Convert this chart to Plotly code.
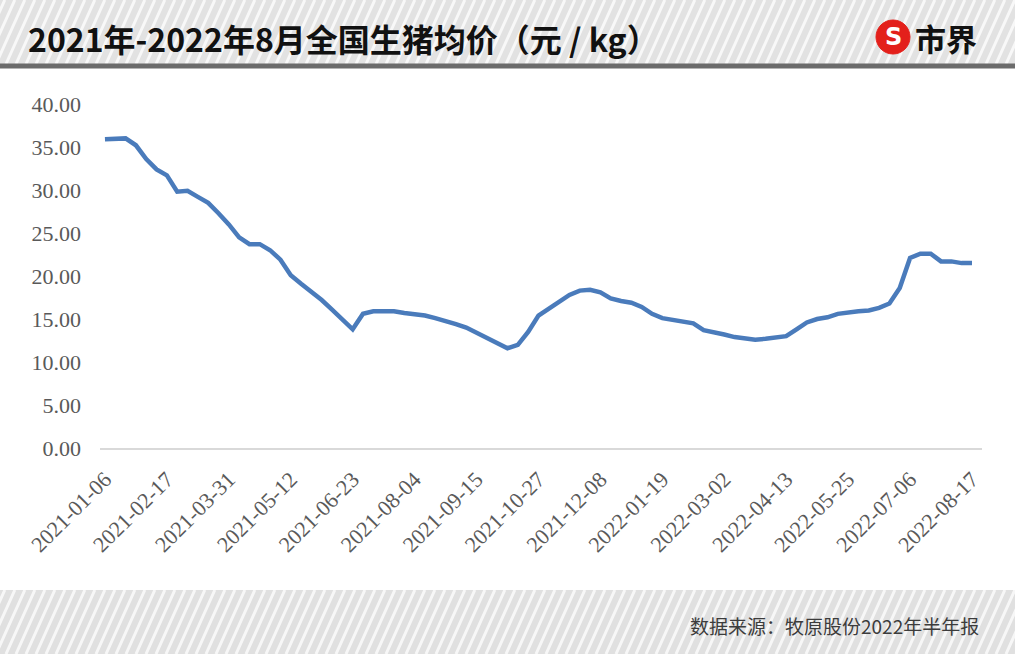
import pandas as pd
import plotly.graph_objects as go

# ---- data ----
week_dates = [d.strftime("%Y-%m-%d") for d in pd.date_range("2021-01-06", "2022-08-17", freq="7D")]
tick_labels = ["2021-01-06", "2021-02-17", "2021-03-31", "2021-05-12", "2021-06-23",
               "2021-08-04", "2021-09-15", "2021-10-27", "2021-12-08", "2022-01-19",
               "2022-03-02", "2022-04-13", "2022-05-25", "2022-07-06", "2022-08-17"]
prices = [35.9, 36.0, 36.0, 35.2, 33.6, 32.4, 31.7, 29.8, 29.9, 29.2,
          28.5, 27.3, 26.0, 24.5, 23.7, 23.7, 23.0, 21.9, 20.1, 19.1,
          18.2, 17.2, 16.1, 15.0, 13.8, 15.6, 15.9, 15.9, 15.9, 15.7,
          15.6, 15.4, 15.1, 14.8, 14.4, 14.0, 13.4, 12.8, 12.1, 11.6,
          12.0, 13.5, 15.4, 16.2, 17.1, 17.8, 18.3, 18.4, 18.1, 17.4,
          17.1, 16.9, 16.4, 15.6, 15.1, 14.9, 14.7, 14.5, 13.7, 13.5,
          13.2, 12.9, 12.7, 12.6, 12.7, 12.8, 13.0, 13.8, 14.6, 15.0,
          15.2, 15.6, 15.8, 15.9, 16.0, 16.3, 16.8, 18.6, 22.1, 22.6,
          22.6, 21.7, 21.7, 21.5, 21.5]
y_ticks = [0, 5, 10, 15, 20, 25, 30, 35, 40]
title_text = "2021年-2022年8月全国生猪均价（元 / kg）"
source_text = "数据来源：牧原股份2022年半年报"
logo_text = "市界"

# ---- layout geometry (pixels) ----
W, H = 1015, 654
L, R, T, B = 100, 33, 104, 206
PW, PH = W - L - R, H - T - B


def px(x):
    return (x - L) / PW


def py(y):
    return (H - B - y) / PH


def stripe_path(y_top, y_bot, spacing=10, slant=0.45):
    h = y_bot - y_top
    parts = []
    x = -h
    while x < W + h:
        parts.append(f"M{px(x):.5f},{py(y_bot):.5f} L{px(x + h * slant):.5f},{py(y_top):.5f}")
        x += spacing
    return " ".join(parts)


shapes = []
# header band
shapes.append(dict(type="rect", xref="paper", yref="paper", x0=px(0), x1=px(W), y0=py(64), y1=py(0),
                   fillcolor="#e2e2e2", line_width=0, layer="below"))
shapes.append(dict(type="path", xref="paper", yref="paper", path=stripe_path(0, 64),
                   line=dict(color="rgba(255,255,255,0.75)", width=3), layer="below"))
shapes.append(dict(type="rect", xref="paper", yref="paper", x0=px(0), x1=px(W), y0=py(68.5), y1=py(63.5),
                   fillcolor="#6b6b6b", line_width=0, layer="below"))
# footer band
shapes.append(dict(type="rect", xref="paper", yref="paper", x0=px(0), x1=px(W), y0=py(H), y1=py(590),
                   fillcolor="#e0e0e0", line_width=0, layer="below"))
shapes.append(dict(type="path", xref="paper", yref="paper", path=stripe_path(590, H),
                   line=dict(color="rgba(255,255,255,0.75)", width=3), layer="below"))
# logo circle
shapes.append(dict(type="circle", xref="paper", yref="paper", x0=px(876), x1=px(910), y0=py(54), y1=py(20),
                   fillcolor="#e3201b", line=dict(color="#e3201b", width=1)))

fig = go.Figure()
fig.add_trace(go.Scatter(
    x=week_dates, y=prices, mode="lines",
    line=dict(color="#4a7bbb", width=4.5),
    hoverinfo="x+y", showlegend=False,
))

axis_font = dict(family="Liberation Serif, Times New Roman, serif", size=22, color="#595959")

fig.update_layout(
    width=W, height=H,
    margin=dict(l=L, r=R, t=T, b=B, pad=0),
    paper_bgcolor="white", plot_bgcolor="white",
    shapes=shapes,
    xaxis=dict(
        type="category", range=[-0.48, 84.97],
        tickmode="array", tickvals=tick_labels, ticktext=tick_labels,
        tickangle=-45, tickfont=axis_font, ticks="",
        showgrid=False, zeroline=False,
        showline=True, linecolor="#d9d9d9", linewidth=1.5,
        ticklabelstandoff=8,
    ),
    yaxis=dict(
        range=[0, 40], tickmode="array", tickvals=y_ticks,
        ticktext=[f"{v:.2f}" for v in y_ticks],
        tickfont=axis_font, ticks="", showgrid=False, zeroline=False,
        showline=False, ticklabelstandoff=18,
    ),
    annotations=[
        dict(text=f"<b>{title_text}</b>", xref="paper", yref="paper", x=px(26), y=py(38),
             xanchor="left", yanchor="middle", showarrow=False,
             font=dict(family="Noto Sans CJK SC", size=32, color="#111111")),
        dict(text="<b>S</b>", xref="paper", yref="paper", x=px(893), y=py(37),
             xanchor="center", yanchor="middle", showarrow=False,
             font=dict(family="DejaVu Sans", size=24, color="white")),
        dict(text=f"<b>{logo_text}</b>", xref="paper", yref="paper", x=px(913), y=py(37),
             xanchor="left", yanchor="middle", showarrow=False,
             font=dict(family="Noto Sans CJK SC", size=31, color="#111111")),
        dict(text=source_text, xref="paper", yref="paper", x=px(981), y=py(625),
             xanchor="right", yanchor="middle", showarrow=False,
             font=dict(family="Noto Sans CJK SC", size=19, color="#3c3c3c")),
    ],
)

fig.write_html("out.html", config={"displayModeBar": False},
               post_script="document.body.style.margin='0';document.body.style.overflow='hidden';")
